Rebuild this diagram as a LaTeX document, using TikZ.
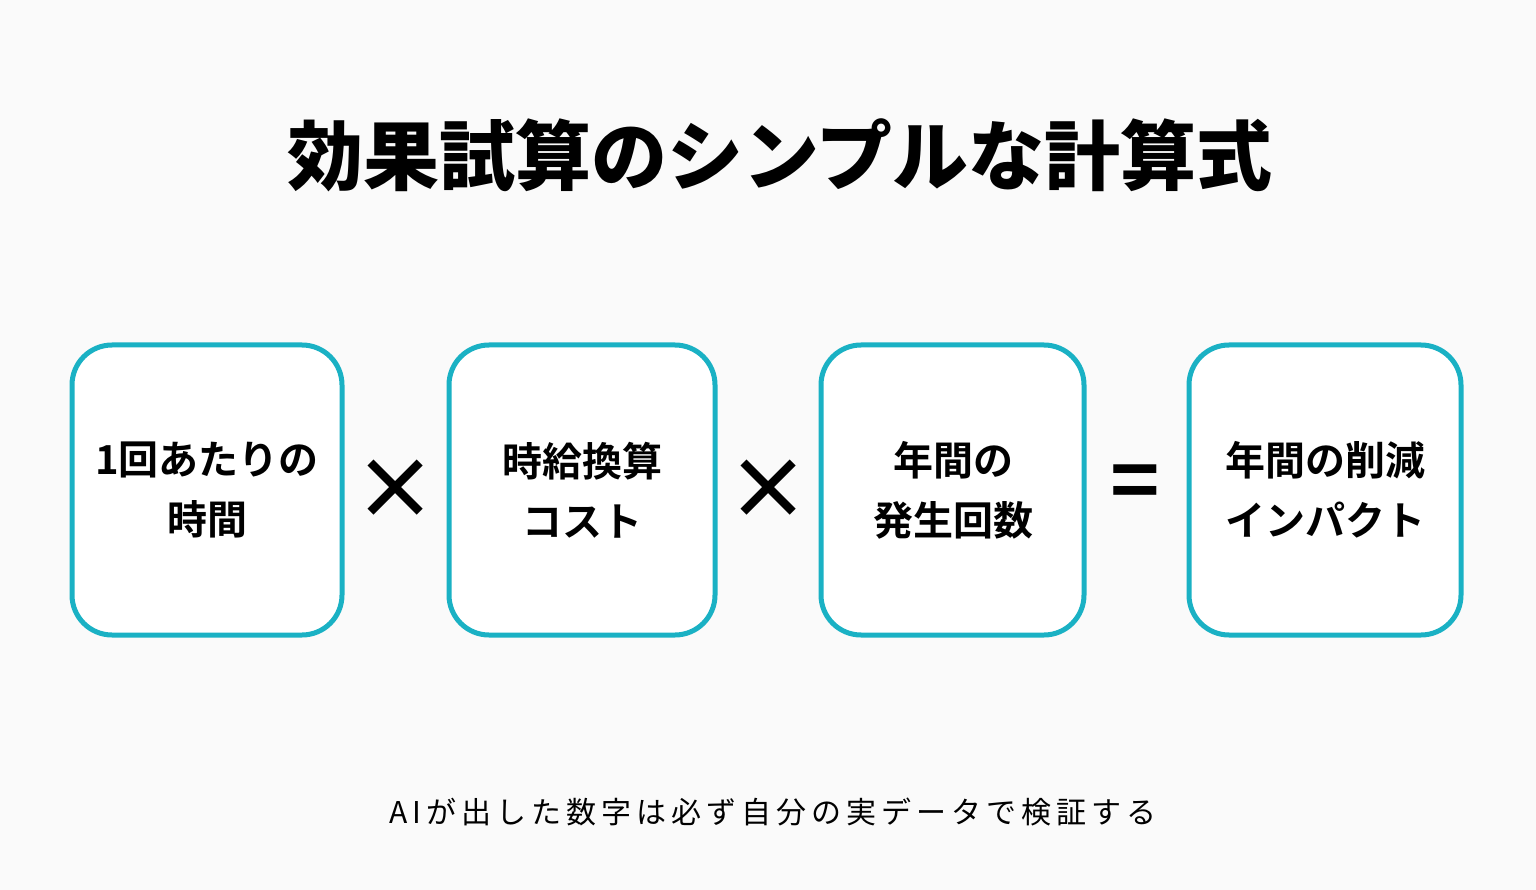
\documentclass[tikz,border=0pt]{standalone}
\usepackage{fontspec}
\setmainfont{Noto Sans CJK JP}[BoldFont={Noto Sans CJK JP Bold}]
\newfontfamily\blackfont{Noto Sans CJK JP Black}
\definecolor{teal1}{HTML}{1AB1C4}
\definecolor{bg}{HTML}{FAFAFA}
\begin{document}
\begin{tikzpicture}[x=1pt,y=-1pt,
  box/.style={draw=teal1,line width=5pt,rounded corners=40pt,fill=white},
  lbl/.style={font=\bfseries\fontsize{40}{60}\selectfont,align=center},
  op/.style={font=\bfseries\fontsize{84}{84}\selectfont}]
\fill[bg] (0,0) rectangle (1536,890);
\useasboundingbox (0,0) rectangle (1536,890);
\node[font=\blackfont\fontsize{76}{80}\selectfont] (title) at (780,155) {効果試算のシンプルな計算式};
\draw[box] (72,345) rectangle (342,635);
\draw[box] (449,345) rectangle (715,635);
\draw[box] (821,345) rectangle (1084,635);
\draw[box] (1189,345) rectangle (1461,635);
\node[lbl] (a) at (207,490) {1回あたりの\\時間};
\node[lbl] (b) at (582,490) {時給換算\\コスト};
\node[lbl] (c) at (953,490) {年間の\\発生回数};
\node[lbl] (d) at (1325,490) {年間の削減\\インパクト};
\node[op] (m1) at (395,490) {×};
\node[op] (m2) at (768,490) {×};
\node[op] (eq) at (1135,488) {=};
\node[font=\fontsize{30}{30}\selectfont] (foot) at (773,812) {A\,I\,が\,出\,し\,た\,数\,字\,は\,必\,ず\,自\,分\,の\,実\,デ\,ー\,タ\,で\,検\,証\,す\,る};
\end{tikzpicture}
\end{document}
